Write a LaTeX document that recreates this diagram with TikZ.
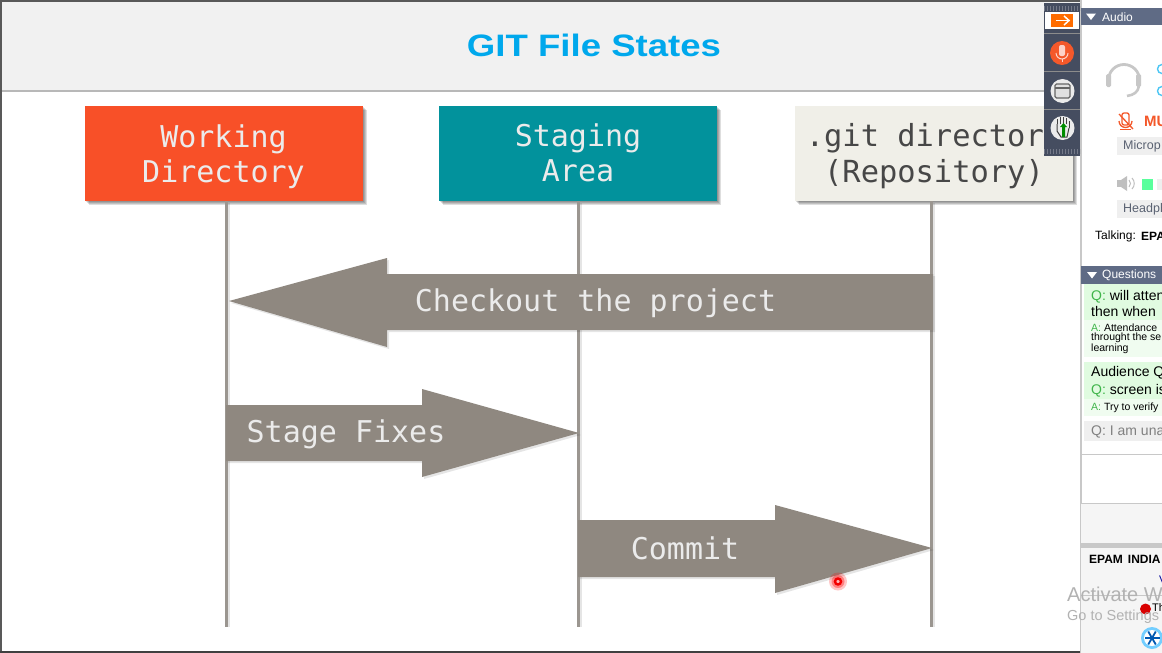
\documentclass[tikz,border=0pt]{standalone}
\usepackage{fontspec}
\setmainfont{Liberation Sans}
\newfontfamily\monof{DejaVu Sans Mono}
\usetikzlibrary{calc}
\definecolor{arrowgray}{HTML}{8F8880}
\definecolor{linegray}{HTML}{9B9690}
\definecolor{orangebox}{HTML}{F85028}
\definecolor{tealbox}{HTML}{02929C}
\definecolor{creambox}{HTML}{F0EFE8}
\definecolor{titleblue}{HTML}{00A8EC}
\definecolor{barbg}{HTML}{F1F1F1}
\definecolor{toolbar}{HTML}{454D60}
\definecolor{header}{HTML}{5F6B85}
\definecolor{qgreen}{HTML}{E0FBE0}
\definecolor{agreen}{HTML}{F0FCF0}
\definecolor{qg}{HTML}{3FB54A}
\definecolor{panelline}{HTML}{C8C8C8}
\definecolor{chip}{HTML}{EFEFEF}
\definecolor{chiptext}{HTML}{5A6272}
\definecolor{iconred}{HTML}{F4582A}
\tikzset{
  x=1pt,y=-1pt,
  boxlabel/.style={font=\monof\fontsize{30}{35.5}\selectfont,align=center,inner sep=0pt},
  life/.style={draw=linegray,line width=3.2pt},
  lifeshadow/.style={draw=black,opacity=0.10,line width=2pt},
  bigarrow/.style={fill=arrowgray,draw=none},
  softshadow/.style={fill=black,opacity=0.10,draw=none},
  arrowtext/.style={font=\monof\fontsize{30}{36}\selectfont,text=black!8,inner sep=0pt},
  hdr/.style={font=\fontsize{12}{14}\selectfont,text=white,inner sep=0pt,anchor=west},
  qtxt/.style={font=\fontsize{14}{16.5}\selectfont,inner sep=0pt,anchor=west,text=black},
  atxt/.style={font=\fontsize{10.5}{11}\selectfont,inner sep=0pt,anchor=west,text=black},
  chiplab/.style={font=\fontsize{12.5}{14}\selectfont,inner sep=0pt,anchor=west,text=chiptext},
  tbtn/.style={circle,fill=#1,minimum size=24pt,inner sep=0pt},
}
\begin{document}
\begin{tikzpicture}
\useasboundingbox (0,0) rectangle (1162,653);
\begin{scope}
\clip (0,0) rectangle (1162,653);
\fill[white] (0,0) rectangle (1162,653);
% slide
\fill[barbg] (2,2) rectangle (1081,90);
\fill[black!28] (2,90) rectangle (1081,92);
\node (title) at (594,45) [font=\bfseries\fontsize{31}{36}\selectfont,text=titleblue,inner sep=0pt] {\scalebox{1.18}[1]{GIT File States}};
% box shadows
\foreach \l in {85,439,795}{
  \foreach \d in {1,2,3,4}{\fill[softshadow,opacity=0.13] (\l+\d,106+\d) rectangle (\l+278+\d,201+\d);}
}
\fill[orangebox] (85,106) rectangle (363,201);
\fill[tealbox] (439,106) rectangle (717,201);
\fill[creambox] (795,106) rectangle (1073,201);
\node[boxlabel,text=black!8] (wd) at (223.5,156.5) {Working\\Directory};
\node[boxlabel,text=black!8] (sa) at (578,153) {Staging\\Area};
\node[boxlabel,text=black!72,font=\monof\fontsize{30.4}{35.5}\selectfont] (git) at (934,156) {.git directory\\(Repository)};
\coordinate (wdtop) at (226.5,201);
\coordinate (satop) at (578.5,201);
\coordinate (gittop) at (931.5,201);
\coordinate (wdend) at (226.5,627);
\coordinate (saend) at (578.5,627);
\coordinate (gitend) at (931.5,627);
% lifelines
\draw[lifeshadow] ($(wdtop)+(2.2,2)$) -- ($(wdend)+(2.2,0)$);
\draw[lifeshadow] ($(satop)+(2.2,2)$) -- ($(saend)+(2.2,0)$);
\draw[lifeshadow] ($(gittop)+(2.2,2)$) -- ($(gitend)+(2.2,0)$);
\draw[life] (wdtop) -- (wdend);
\draw[life] (satop) -- (saend);
\draw[life] (gittop) -- (gitend);
% arrows
\fill[softshadow] (231,303) -- (389,260) -- (389,276) -- (935,276) -- (935,332) -- (389,332) -- (389,349) -- cycle;
\fill[bigarrow] (229,301) -- (387,258) -- (387,274) -- (933,274) -- (933,330) -- (387,330) -- (387,347) -- cycle;
\node[arrowtext] (checkout) at (595.5,303.5) {Checkout the project};
\fill[softshadow] (228,407) -- (424,407) -- (424,391) -- (581,435) -- (424,479) -- (424,463) -- (228,463) -- cycle;
\fill[bigarrow] (226,405) -- (422,405) -- (422,389) -- (579,433) -- (422,477) -- (422,461) -- (226,461) -- cycle;
\node[arrowtext] (stage) at (346,434.5) {Stage Fixes};
\fill[softshadow] (580,522) -- (777,522) -- (777,507) -- (934,550) -- (777,595) -- (777,579) -- (580,579) -- cycle;
\fill[bigarrow] (578,520) -- (775,520) -- (775,505) -- (932,548) -- (775,593) -- (775,577) -- (578,577) -- cycle;
\node[arrowtext] (commit) at (685,548) {Commit};
% pointer
\fill[red,opacity=0.22] (838,581.5) circle (9);
\fill[red,opacity=0.35] (838,581.5) circle (6.5);
\draw[red!95!black,line width=2.4pt,fill=white!70!red] (838,581.5) circle (3);
% frame
\fill[black!65] (0,0) rectangle (1081,2);
\fill[black!65] (0,0) rectangle (2,653);
\fill[black!75] (0,651) rectangle (1081,653);
% right panel
\fill[white] (1081,0) rectangle (1162,653);
\fill[panelline] (1080,0) rectangle (1081.5,653);
\fill[header] (1081,8) rectangle (1162,25);
\fill[white] (1086,13.5) -- (1096,13.5) -- (1091,20) -- cycle;
\node[hdr] (audio) at (1102,17) {Audio};
% headset
\draw[black!22,line width=2.8pt] (1108.5,80) arc[start angle=180,end angle=360,radius=15.5];
\fill[black!22,rounded corners=1.5pt] (1106,74) rectangle (1111,87);
\fill[black!22,rounded corners=1.5pt] (1136,74) rectangle (1141,87);
\draw[black!22,line width=2.6pt] (1139,86) .. controls (1138,92) and (1134,95) .. (1127,96);
\draw[cyan!70,line width=1.4pt] (1162,69) circle (4.5);
\draw[cyan!70,line width=1.4pt] (1162,91) circle (4.5);
% mic muted
\draw[iconred,line width=1.3pt,rounded corners=2pt] (1122,113) rectangle (1129,125);
\draw[iconred,line width=1.3pt] (1119,121) arc[start angle=180,end angle=0,radius=6.5];
\draw[iconred,line width=1.3pt] (1119,114) -- (1133,129);
\draw[iconred,line width=1.3pt] (1120,129.5) -- (1131,129.5);
\node[font=\bfseries\fontsize{15}{17}\selectfont,text=iconred,inner sep=0pt,anchor=west] (mu) at (1144,121.5) {MU};
\fill[chip] (1117,137) rectangle (1162,155);
\node[chiplab] (micro) at (1123,146.5) {Microp};
% speaker
\fill[black!25] (1117,180) rectangle (1121,187);
\fill[black!25] (1121,180) -- (1127,176) -- (1127,191) -- (1121,187) -- cycle;
\draw[black!25,line width=1pt] (1129,180) .. controls (1131,182) and (1131,185) .. (1129,187);
\draw[black!25,line width=1pt] (1132,178) .. controls (1135,181) and (1135,186) .. (1132,189);
\fill[green!60!cyan!65] (1142,179) rectangle (1153,190);
\fill[chip] (1157,179) rectangle (1162,190);
\fill[chip] (1117,200) rectangle (1162,218);
\node[chiplab] (headph) at (1123,209.5) {Headph};
\node[font=\fontsize{12}{14}\selectfont,inner sep=0pt,anchor=west] (talk) at (1095,236.5) {Talking:};
\node[font=\bfseries\fontsize{12}{14}\selectfont,inner sep=0pt,anchor=west] (epa) at (1141,236.5) {EPA};
% questions
\fill[header] (1081,266) rectangle (1162,284);
\fill[white] (1087,272) -- (1097,272) -- (1092,278.5) -- cycle;
\node[hdr] (questions) at (1102,275.5) {Questions};
\fill[qgreen] (1084,284) rectangle (1162,320);
\fill[agreen] (1084,320) rectangle (1162,357);
\node[qtxt] (q1) at (1091,296.5) {\textcolor{qg}{Q:} will atten};
\node[qtxt] (q1b) at (1091,311) {then when};
\node[atxt] (a1) at (1091,327.5) {\textcolor{qg}{A:} Attendance};
\node[atxt] (a1b) at (1091,338) {throught the se};
\node[atxt] (a1c) at (1091,349) {learning};
\fill[qgreen] (1084,362) rectangle (1162,399);
\fill[agreen] (1084,399) rectangle (1162,416);
\node[qtxt] (aud) at (1091,373) {Audience Q};
\node[qtxt] (q2) at (1091,391) {\textcolor{qg}{Q:} screen is};
\node[atxt] (a2) at (1091,408) {\textcolor{qg}{A:} Try to verify};
\fill[chip] (1084,421) rectangle (1162,441);
\node[qtxt,text=black!50] (q3) at (1091,432) {Q: I am una};
\fill[panelline] (1081,454) rectangle (1162,455);
\fill[panelline] (1081,503) rectangle (1162,504);
\fill[black!4] (1081,504) rectangle (1162,653);
\fill[panelline] (1081,543) rectangle (1162,548);
\node[font=\bfseries\fontsize{12}{14}\selectfont,inner sep=0pt,anchor=west] (epam) at (1089,559.5) {EPAM\hspace{5pt}INDIA};
\node[font=\fontsize{11}{13}\selectfont,text=blue!60!black,inner sep=0pt,anchor=west] (v) at (1159,580) {V};
\fill[panelline] (1081,595) rectangle (1162,595.7);
\fill[red!85!black] (1145.5,609) circle (5.5);
\node[font=\fontsize{11}{13}\selectfont,inner sep=0pt,anchor=west] (th) at (1152,608) {Th};
\node[font=\fontsize{20}{24}\selectfont,text=black!30,inner sep=0pt,anchor=west] (act) at (1067,594) {Activate W};
\node[font=\fontsize{14.5}{17}\selectfont,text=black!30,inner sep=0pt,anchor=west] (go) at (1067,617) {Go to Settings};
% snowflake icon
\fill[blue!35!cyan!55] (1152,638) circle (11);
\fill[white] (1152,638) circle (8);
\foreach \a in {0,60,120}{\draw[blue!50!cyan!70!black,line width=1.8pt] ($(1152,638)+(\a:7.5)$) -- ($(1152,638)+(\a+180:7.5)$);}
% toolbar
\fill[toolbar] (1044,3) rectangle (1080,156);
\draw[toolbar!75!white,line width=5pt,dash pattern=on 1pt off 2pt] (1044,8) -- (1080,8);
\draw[toolbar!75!white,line width=5pt,dash pattern=on 1pt off 2pt] (1044,151) -- (1080,151);
\fill[white] (1045,12) rectangle (1079,29);
\fill[orange!85!red] (1051,14) rectangle (1073,27);
\draw[white,line width=1.5pt] (1056,20.5) -- (1069,20.5);
\draw[white,line width=1.5pt] (1064,16) -- (1069,20.5) -- (1064,25);
\foreach \y in {33,71,109}{\fill[black!45] (1044,\y) rectangle (1080,\y+0.8);}
\node[tbtn=iconred] (mutebtn) at (1062,53) {};
\fill[white!75!orangebox,rounded corners=2pt] (1059,45) rectangle (1065,56);
\draw[white!75!orangebox,line width=1pt] (1056,53) arc[start angle=180,end angle=0,radius=6];
\draw[white!75!orangebox,line width=1pt] (1062,59) -- (1062,62);
\node[tbtn=black!8] (winbtn) at (1062.5,91) {};
\draw[black!60,line width=1.2pt,fill=black!12,rounded corners=1.5pt] (1055,84) rectangle (1070,98);
\draw[black!60,line width=1.2pt] (1055,88) -- (1070,88);
\node[tbtn=black!8] (handbtn) at (1062.5,128) {};
\draw[black!75,line width=1pt] (1057,124) -- (1057,119) (1060,124) -- (1060,117) (1063,124) -- (1063,117) (1066,124) -- (1066,118) (1069,128) -- (1069,121);
\draw[black!75,line width=1pt] (1057,124) -- (1057,131) -- (1061,137) -- (1067,137) -- (1069,128);
\fill[green!55!black] (1060,127) -- (1063.5,123) -- (1067,127) -- (1065,127) -- (1065,137) -- (1062,137) -- (1062,127) -- cycle;
\end{scope}
\end{tikzpicture}
\end{document}
